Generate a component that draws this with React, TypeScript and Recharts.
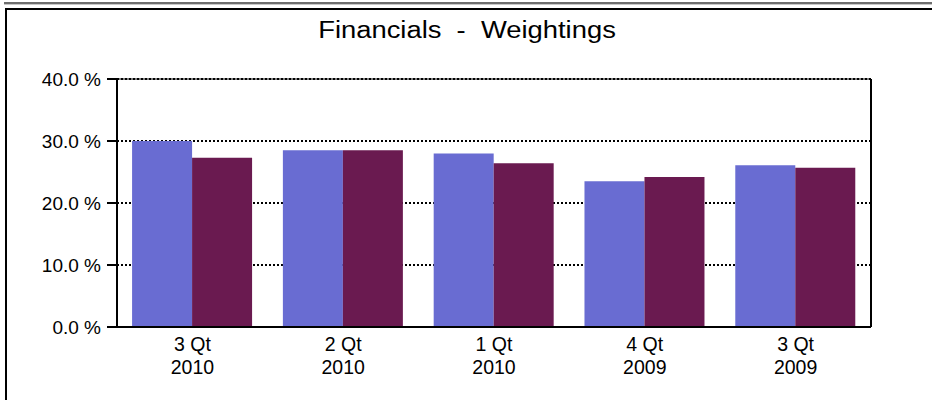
import React from "react";
import {
  BarChart,
  Bar,
  XAxis,
  YAxis,
  CartesianGrid,
} from "recharts";

const quarters = ["3 Qt", "2 Qt", "1 Qt", "4 Qt", "3 Qt"];
const years = ["2010", "2010", "2010", "2009", "2009"];
const portfolio = [30.0, 28.5, 28.0, 23.5, 26.1];
const benchmark = [27.3, 28.5, 26.4, 24.2, 25.7];
const yTicks = [0, 10, 20, 30, 40];

const data = quarters.map((q, i) => ({
  label: q + "|" + years[i],
  portfolio: portfolio[i],
  benchmark: benchmark[i],
}));

const FONT = "'Liberation Sans', Arial, sans-serif";

function QuarterTick(props: any) {
  const { x, y, payload } = props;
  const [q, yr] = String(payload.value).split("|");
  return (
    <text x={x} y={y} textAnchor="middle" fill="#000" fontSize={19.5} fontFamily={FONT}>
      <tspan x={x} dy={24}>{q}</tspan>
      <tspan x={x} dy={23}>{yr}</tspan>
    </text>
  );
}

export default function App() {
  return (
    <div style={{ position: "absolute", left: 0, top: 0, width: 932, height: 400, background: "#fff", fontFamily: FONT }}>
      <div style={{ position: "absolute", left: 4, top: 2, width: 928, height: 2, background: "#6e6e6e" }} />
      <div style={{ position: "absolute", left: 4, top: 4, width: 928, height: 1, background: "#c8c8c8" }} />
      <div style={{ position: "absolute", left: 5, top: 8, width: 927, height: 2, background: "#000" }} />
      <div style={{ position: "absolute", left: 5, top: 8, width: 2, height: 392, background: "#000" }} />
      <div
        style={{
          position: "absolute",
          left: 0,
          width: 934,
          top: 19,
          textAlign: "center",
          fontSize: 23,
          lineHeight: "22px",
          color: "#000",
          transform: "scaleX(1.19)",
          transformOrigin: "467px 0",
        }}
      >
        Financials&nbsp;&nbsp;-&nbsp;&nbsp;Weightings
      </div>
      <div style={{ position: "absolute", left: 0, top: 0 }}>
        <BarChart
          width={932}
          height={400}
          data={data}
          margin={{ top: 78, right: 60, bottom: 13, left: 5 }}
          barCategoryGap="10%"
          barGap={0}
        >
          <CartesianGrid
            vertical={false}
            stroke="#000"
            strokeWidth={2}
            strokeDasharray="2 2"
          />
          <XAxis
            dataKey="label"
            height={60}
            tickSize={0}
            tickMargin={0}
            tickLine={false}
            axisLine={{ stroke: "#000", strokeWidth: 2 }}
            tick={<QuarterTick />}
            interval={0}
          />
          <XAxis
            xAxisId="top"
            dataKey="label"
            orientation="top"
            height={1}
            tick={false}
            tickLine={false}
            axisLine={{ stroke: "#000", strokeWidth: 1 }}
          />
          <YAxis
            domain={[0, 40]}
            ticks={yTicks}
            width={112}
            tickSize={10}
            tickMargin={6}
            tickLine={{ stroke: "#000", strokeWidth: 2 }}
            axisLine={{ stroke: "#000", strokeWidth: 2 }}
            tick={{ fill: "#000", fontSize: 19, fontFamily: FONT }}
            tickFormatter={(v: number) => v.toFixed(1) + " %"}
            interval={0}
          />
          <YAxis
            yAxisId="right"
            orientation="right"
            domain={[0, 40]}
            width={1}
            tick={false}
            tickLine={false}
            axisLine={{ stroke: "#000", strokeWidth: 2 }}
          />
          <Bar dataKey="portfolio" name="Portfolio" fill="#696cd2" isAnimationActive={false} />
          <Bar dataKey="benchmark" name="Benchmark" fill="#6a1a50" isAnimationActive={false} />
        </BarChart>
      </div>
    </div>
  );
}
